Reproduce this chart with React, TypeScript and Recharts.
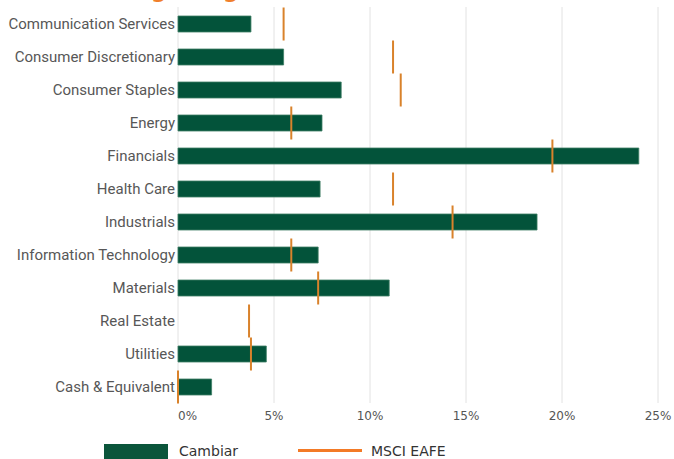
import { ComposedChart, Bar, XAxis, YAxis, CartesianGrid } from 'recharts';

const categories = [
  'Communication Services',
  'Consumer Discretionary',
  'Consumer Staples',
  'Energy',
  'Financials',
  'Health Care',
  'Industrials',
  'Information Technology',
  'Materials',
  'Real Estate',
  'Utilities',
  'Cash & Equivalent',
];

const cambiar = [3.8, 5.5, 8.5, 7.5, 24.0, 7.4, 18.7, 7.3, 11.0, 0, 4.6, 1.75];
const msciEafe = [5.5, 11.2, 11.6, 5.9, 19.5, 11.2, 14.3, 5.9, 7.3, 3.7, 3.8, 0];
const xTicks = [0, 5, 10, 15, 20, 25];

const GREEN = '#03533a';
const ORANGE = '#d9822b';

const data = categories.map((name, i) => ({
  name,
  cambiar: cambiar[i],
  msci: msciEafe[i],
}));

// vertical marker at the end of the (invisible) benchmark bar
const MarkerShape = (props: any) => {
  const { x, y, width, height } = props;
  const cx = x + width;
  const cy = y + height / 2;
  return <line x1={cx} x2={cx} y1={cy - 16.5} y2={cy + 16.5} stroke={ORANGE} strokeWidth={2} />;
};

const XTick = (props: any) => {
  const { x, y, payload } = props;
  return (
    <text
      x={x}
      y={y}
      dy={9}
      textAnchor={payload.value === 0 ? 'start' : 'middle'}
      fontFamily="DejaVu Sans"
      fontSize={12}
      fill="#555"
    >
      {`${payload.value}%`}
    </text>
  );
};

export default function App() {
  return (
    <div
      style={{
        position: 'absolute',
        left: 0,
        top: 0,
        width: 674,
        height: 459,
        overflow: 'hidden',
        background: '#fff',
      }}
    >
      {/* title, almost entirely cropped off the top */}
      <div
        style={{
          position: 'absolute',
          left: 0,
          top: -30,
          fontFamily: 'DejaVu Sans',
          fontSize: 28,
          color: '#f07f2c',
          whiteSpace: 'nowrap',
        }}
      >
        Sector Weighting
      </div>

      <div style={{ position: 'absolute', left: 0, top: 0 }}>
        <ComposedChart
          layout="vertical"
          width={674}
          height={430}
          data={data}
          margin={{ top: 7, right: 16, bottom: 7, left: 0 }}
          barSize={16}
        >
          <CartesianGrid horizontal={false} stroke="#e2e2e2" />
          <XAxis
            type="number"
            domain={[0, 25]}
            ticks={xTicks}
            axisLine={false}
            tickLine={false}
            tick={<XTick />}
            height={20}
          />
          <YAxis
            type="category"
            dataKey="name"
            width={178}
            axisLine={false}
            tickLine={false}
            tickSize={0}
            tickMargin={3}
            tick={{ fontFamily: 'Roboto', fontSize: 15, fill: '#575757' }}
            interval={0}
          />
          <YAxis yAxisId="ref" type="category" dataKey="name" hide />
          <Bar dataKey="cambiar" fill={GREEN} stroke="#3f7f65" strokeWidth={0.8} isAnimationActive={false} />
          <Bar dataKey="msci" yAxisId="ref" shape={<MarkerShape />} isAnimationActive={false} />
        </ComposedChart>
      </div>

      {/* legend */}
      <div style={{ position: 'absolute', left: 104, top: 444, width: 64, height: 15, background: '#0b553b' }} />
      <div
        style={{
          position: 'absolute',
          left: 179,
          top: 442,
          fontFamily: 'DejaVu Sans',
          fontSize: 14,
          color: '#333',
          lineHeight: '18px',
        }}
      >
        Cambiar
      </div>
      <div style={{ position: 'absolute', left: 298, top: 449, width: 64, height: 3, background: '#f37a26' }} />
      <div
        style={{
          position: 'absolute',
          left: 371,
          top: 442,
          fontFamily: 'DejaVu Sans',
          fontSize: 14,
          color: '#333',
          lineHeight: '18px',
        }}
      >
        MSCI EAFE
      </div>
    </div>
  );
}
